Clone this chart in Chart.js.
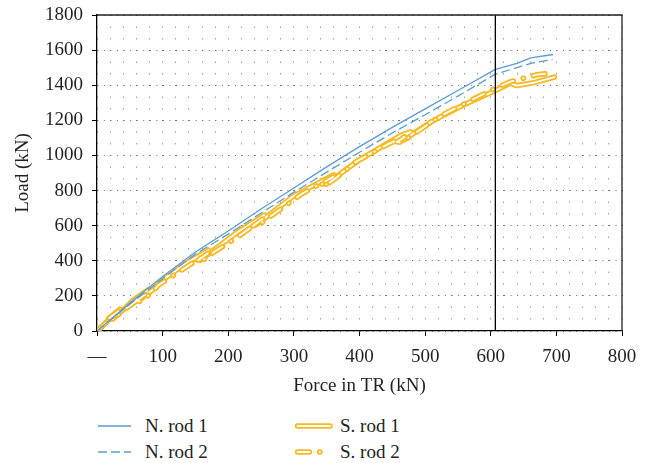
<!DOCTYPE html>
<html>
<head>
<meta charset="utf-8">
<script src="https://cdn.jsdelivr.net/npm/chart.js@4.4.0/dist/chart.umd.min.js"></script>
<style>
  body { margin: 0; background: #fff; }
  #wrap { position: relative; width: 649px; height: 463px; }
  #chart { position: absolute; left: 0; top: 0; }
  .leg { position: absolute; height: 24px; display: flex; align-items: center; font: 19px 'Liberation Serif', serif; color: #231f20; white-space: nowrap; }
</style>
</head>
<body>
<div id="wrap">
  <canvas id="chart" width="649" height="400"></canvas>
  <div id="legend"></div>
</div>
<script>
// valores (força no tirante x carga)
const seriesNames = ['N. rod 1', 'N. rod 2', 'S. rod 1', 'S. rod 2'];
const xTitle = 'Force in TR (kN)';
const yTitle = 'Load (kN)';
const xMax = 800, xStep = 100, xMinorStep = 20;
const yMax = 1800, yStep = 200;

const nRod1 = [[0,0],[50,160],[100,310],[150,450],[200,570],[250,695],[300,815],[350,935],[400,1050],[450,1160],[500,1265],[550,1370],[607,1490],[640,1525],[661,1556],[695,1575]];
const nRod2 = [[0,0],[50,152],[100,298],[150,438],[200,552],[250,672],[300,790],[350,905],[400,1018],[450,1128],[500,1232],[550,1338],[607,1463],[661,1524],[694,1547]];
const sRod1 = [[0,0],[20,72],[35,125],[18,72],[24,68],[40,120],[55,175],[78,235],[58,180],[64,175],[84,232],[100,290],[135,385],[170,460],[150,408],[157,402],[176,456],[213,560],[255,660],[236,612],[243,606],[261,658],[300,770],[361,890],[342,842],[349,836],[367,886],[400,975],[463,1114],[478,1135],[459,1090],[466,1084],[486,1135],[513,1200],[560,1290],[608,1371],[630,1412],[640,1398],[666,1415],[697,1446]];
const sRod2 = [[0,0],[35,118],[19,74],[25,70],[40,116],[78,220],[60,172],[66,168],[84,220],[94,262],[135,362],[170,445],[152,398],[158,393],[176,444],[213,532],[255,645],[238,600],[244,595],[261,644],[313,783],[360,878],[342,834],[349,829],[366,877],[395,965],[443,1063],[475,1118],[457,1078],[464,1073],[481,1118],[525,1228],[572,1318],[608,1385],[630,1420],[671,1460],[684,1466]];
const trLine = [[607,0],[607,1800]];

const BLUE = '#5b9bd5';
const YELLOW = '#f7b924';
const FONT = "'Liberation Serif', 'Times New Roman', serif";
const dashS2 = [12, 10, 0.5, 10];

const pts = arr => arr.map(([x, y]) => ({x, y}));

const base = { showLine: true, pointRadius: 0, tension: 0, borderJoinStyle: 'round', fill: false };

const datasets = [
  { ...base, label: 'TR', data: pts(trLine), borderColor: '#000', borderWidth: 1.3, order: 0 },
  { ...base, label: seriesNames[0], data: pts(nRod1), borderColor: BLUE, borderWidth: 1.3, order: 1 },
  { ...base, label: seriesNames[1], data: pts(nRod2), borderColor: BLUE, borderWidth: 1.3, borderDash: [9, 4], order: 2 },
  { ...base, label: 'S2in', data: pts(sRod2), borderColor: '#fff', borderWidth: 1.8, borderDash: dashS2, borderCapStyle: 'round', order: 3 },
  { ...base, label: seriesNames[3], data: pts(sRod2), borderColor: YELLOW, borderWidth: 5.5, borderDash: dashS2, borderCapStyle: 'round', order: 4 },
  { ...base, label: 'S1in', data: pts(sRod1), borderColor: '#fff', borderWidth: 1.8, borderCapStyle: 'round', order: 5 },
  { ...base, label: seriesNames[2], data: pts(sRod1), borderColor: YELLOW, borderWidth: 5.5, borderCapStyle: 'round', order: 6 }
];

// moldura superior e direita
const framePlugin = {
  id: 'frame',
  afterDraw(chart) {
    const {ctx, chartArea: a} = chart;
    ctx.save();
    ctx.strokeStyle = '#222';
    ctx.lineWidth = 1.3;
    ctx.beginPath();
    ctx.moveTo(a.left, a.top);
    ctx.lineTo(a.right, a.top);
    ctx.lineTo(a.right, a.bottom);
    ctx.stroke();
    ctx.restore();
  }
};

new Chart(document.getElementById('chart'), {
  type: 'scatter',
  data: { datasets },
  plugins: [framePlugin],
  options: {
    responsive: false,
    animation: false,
    layout: { padding: { top: 15, right: 27, left: 0, bottom: 0 } },
    plugins: { legend: { display: false }, tooltip: { enabled: false } },
    scales: {
      x: {
        type: 'linear', min: 0, max: xMax,
        afterFit: s => { s.height = 69; s.paddingLeft = 0; s.paddingRight = 0; },
        ticks: {
          stepSize: xMinorStep, autoSkip: false, maxRotation: 0, padding: 10,
          color: '#231f20', font: { family: FONT, size: 19 },
          callback: v => v === 0 ? '—' : (v % xStep === 0 ? String(v) : '')
        },
        grid: {
          color: '#6f6f6f', lineWidth: 1, tickLength: 5,
          tickColor: c => (c.tick && c.tick.value % xStep === 0) ? '#000' : 'rgba(0,0,0,0)'
        },
        border: { color: '#000', width: 1.3, dash: [1, 10.667] },
        title: { display: true, text: xTitle, color: '#231f20', font: { family: FONT, size: 19 }, padding: { top: 0, bottom: 3 } }
      },
      y: {
        type: 'linear', min: 0, max: yMax,
        afterFit: s => { s.width = 97; s.paddingTop = 0; s.paddingBottom = 0; },
        ticks: {
          stepSize: yStep, padding: 9,
          color: '#231f20', font: { family: FONT, size: 19 },
          callback: v => String(v)
        },
        grid: { color: '#6f6f6f', lineWidth: 1, tickLength: 5, tickColor: '#000' },
        border: { color: '#000', width: 1.3, dash: [1, 5.56] },
        title: { display: true, text: yTitle, color: '#231f20', font: { family: FONT, size: 19 }, padding: { top: 12, bottom: 0 } }
      }
    }
  }
});

// legenda em HTML com símbolos desenhados
const legendItems = [
  { name: seriesNames[0], left: 98, top: 414, text: 145, draw: c => line(c, BLUE, 1.3, []) },
  { name: seriesNames[1], left: 98, top: 440, text: 145, draw: c => line(c, BLUE, 1.3, [9, 4]) },
  { name: seriesNames[2], left: 294, top: 414, text: 340, draw: c => { line(c, YELLOW, 5.5, [], true); line(c, '#fff', 1.8, [], true); } },
  { name: seriesNames[3], left: 294, top: 440, text: 340, draw: c => { line(c, YELLOW, 5.5, dashS2, true); line(c, '#fff', 1.8, dashS2, true); } }
];

function line(c, color, w, dash, round) {
  const ctx = c.getContext('2d');
  ctx.save();
  ctx.strokeStyle = color;
  ctx.lineWidth = w;
  ctx.lineCap = round ? 'round' : 'butt';
  ctx.setLineDash(dash);
  ctx.beginPath();
  ctx.moveTo(round ? 3.5 : 0, 12);
  ctx.lineTo(round ? 36 : 33, 12);
  ctx.stroke();
  ctx.restore();
}

const legend = document.getElementById('legend');
legendItems.forEach(it => {
  const icon = document.createElement('canvas');
  icon.width = 40; icon.height = 24;
  icon.style.position = 'absolute';
  icon.style.left = it.left + 'px';
  icon.style.top = it.top + 'px';
  legend.appendChild(icon);
  it.draw(icon);
  const label = document.createElement('div');
  label.className = 'leg';
  label.style.left = it.text + 'px';
  label.style.top = it.top + 'px';
  label.textContent = it.name;
  legend.appendChild(label);
});
</script>
</body>
</html>
